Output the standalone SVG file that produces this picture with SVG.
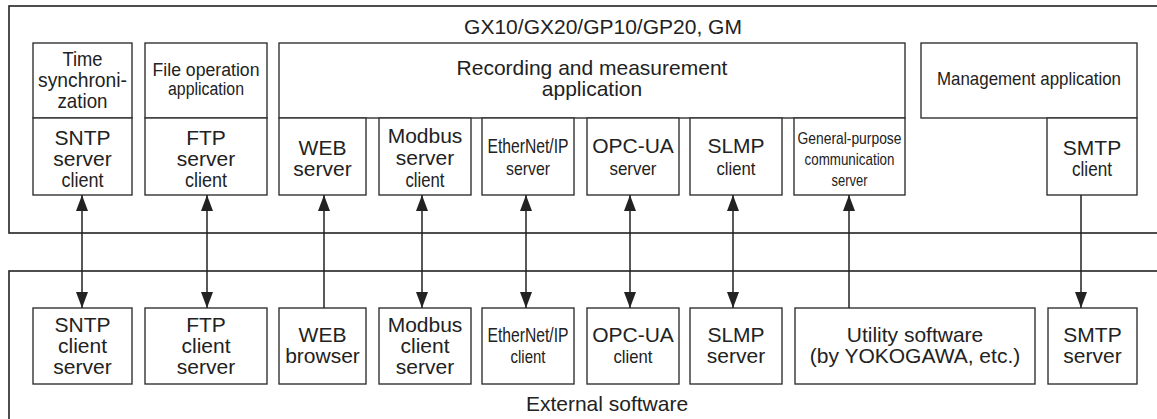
<svg xmlns="http://www.w3.org/2000/svg" width="1157" height="419" viewBox="0 0 1157 419">
<style>
.frame{fill:none;stroke:#222;stroke-width:1.6}
.box{fill:#fff;stroke:#333;stroke-width:1.4}
text{font-family:"Liberation Sans",Arial,sans-serif;fill:#222;text-anchor:middle;font-size:21px}
.sm{font-size:18px}
.xs{font-size:17px}
.n2{font-size:19px}
.con{stroke:#222;stroke-width:1.5;fill:none}
</style>
<defs>
<marker id="ah" markerUnits="userSpaceOnUse" markerWidth="16" markerHeight="12" refX="16" refY="6" orient="auto-start-reverse">
<path d="M0,0 L16,6 L0,12 z" fill="#222"/>
</marker>
</defs>
<g id="device">
<rect class="frame" x="9" y="6" width="1200" height="227"/>
<text x="603" y="34">GX10/GX20/GP10/GP20, GM</text>
</g>
<g id="external">
<rect class="frame" x="9" y="271" width="1200" height="200"/>
<text x="607" y="411">External software</text>
</g>
<g id="time-sync">
<rect class="box" x="33" y="43" width="99" height="75"/>
<text x="82.5" y="66" textLength="40" lengthAdjust="spacingAndGlyphs">Time</text>
<text x="82.5" y="87" textLength="89" lengthAdjust="spacingAndGlyphs">synchroni-</text>
<text x="82.5" y="108" textLength="50" lengthAdjust="spacingAndGlyphs">zation</text>
</g>
<g id="sntp-top">
<rect class="box" x="33" y="118" width="99" height="77"/>
<text x="82.5" y="145">SNTP</text>
<text x="82.5" y="166">server</text>
<text x="82.5" y="187" textLength="42" lengthAdjust="spacingAndGlyphs">client</text>
</g>
<g id="file-op">
<rect class="box" x="145" y="43" width="122" height="75"/>
<text class="sm" x="206" y="76" textLength="107" lengthAdjust="spacingAndGlyphs">File operation</text>
<text class="sm" x="206" y="95" textLength="76" lengthAdjust="spacingAndGlyphs">application</text>
</g>
<g id="ftp-top">
<rect class="box" x="145" y="118" width="122" height="77"/>
<text x="206" y="145">FTP</text>
<text x="206" y="166">server</text>
<text x="206" y="187" textLength="42" lengthAdjust="spacingAndGlyphs">client</text>
</g>
<g id="recording">
<rect class="box" x="279" y="43" width="626" height="75"/>
<text x="592" y="75">Recording and measurement</text>
<text x="592" y="96">application</text>
</g>
<g id="web-server">
<rect class="box" x="279" y="118" width="87" height="77"/>
<text x="322.5" y="155">WEB</text>
<text x="322.5" y="176">server</text>
</g>
<g id="modbus-top">
<rect class="box" x="379" y="118" width="92" height="77"/>
<text x="425" y="143">Modbus</text>
<text x="425" y="165">server</text>
<text x="425" y="187" textLength="39" lengthAdjust="spacingAndGlyphs">client</text>
</g>
<g id="eip-server">
<rect class="box" x="482" y="118" width="92" height="77"/>
<text x="528" y="153" textLength="81" lengthAdjust="spacingAndGlyphs">EtherNet/IP</text>
<text class="n2" x="528" y="175" textLength="44" lengthAdjust="spacingAndGlyphs">server</text>
</g>
<g id="opcua-server">
<rect class="box" x="587" y="118" width="92" height="77"/>
<text x="633" y="153">OPC-UA</text>
<text class="n2" x="633" y="175" textLength="47" lengthAdjust="spacingAndGlyphs">server</text>
</g>
<g id="slmp-client">
<rect class="box" x="690" y="118" width="92" height="77"/>
<text x="736" y="153">SLMP</text>
<text class="n2" x="736" y="175" textLength="39" lengthAdjust="spacingAndGlyphs">client</text>
</g>
<g id="general-purpose">
<rect class="box" x="794" y="118" width="111" height="77"/>
<text class="xs" x="849.5" y="144" textLength="104" lengthAdjust="spacingAndGlyphs">General-purpose</text>
<text class="xs" x="849.5" y="165" textLength="90" lengthAdjust="spacingAndGlyphs">communication</text>
<text class="xs" x="849.5" y="186" textLength="36" lengthAdjust="spacingAndGlyphs">server</text>
</g>
<g id="management">
<rect class="box" x="921" y="43" width="216" height="75"/>
<text x="1029" y="85" style="font-size:19px" textLength="184" lengthAdjust="spacingAndGlyphs">Management application</text>
</g>
<g id="smtp-client">
<rect class="box" x="1047" y="118" width="90" height="77"/>
<text x="1092" y="155">SMTP</text>
<text x="1092" y="176" textLength="40" lengthAdjust="spacingAndGlyphs">client</text>
</g>
<g id="sntp-bottom">
<rect class="box" x="33" y="308" width="99" height="76"/>
<text x="82.5" y="332">SNTP</text>
<text x="82.5" y="353">client</text>
<text x="82.5" y="374">server</text>
</g>
<g id="ftp-bottom">
<rect class="box" x="145" y="308" width="122" height="76"/>
<text x="206" y="332">FTP</text>
<text x="206" y="353">client</text>
<text x="206" y="374">server</text>
</g>
<g id="web-browser">
<rect class="box" x="279" y="308" width="87" height="76"/>
<text x="322.5" y="342">WEB</text>
<text x="322.5" y="363">browser</text>
</g>
<g id="modbus-bottom">
<rect class="box" x="379" y="308" width="92" height="76"/>
<text x="425" y="332">Modbus</text>
<text x="425" y="353">client</text>
<text x="425" y="374">server</text>
</g>
<g id="eip-client">
<rect class="box" x="482" y="308" width="92" height="76"/>
<text x="528" y="342" textLength="81" lengthAdjust="spacingAndGlyphs">EtherNet/IP</text>
<text class="n2" x="528" y="363" textLength="35" lengthAdjust="spacingAndGlyphs">client</text>
</g>
<g id="opcua-client">
<rect class="box" x="587" y="308" width="92" height="76"/>
<text x="633" y="342">OPC-UA</text>
<text class="n2" x="633" y="363" textLength="39" lengthAdjust="spacingAndGlyphs">client</text>
</g>
<g id="slmp-server">
<rect class="box" x="690" y="308" width="92" height="76"/>
<text x="736" y="342">SLMP</text>
<text x="736" y="363">server</text>
</g>
<g id="utility">
<rect class="box" x="795" y="308" width="240" height="76"/>
<text x="915" y="342">Utility software</text>
<text x="915" y="363">(by YOKOGAWA, etc.)</text>
</g>
<g id="smtp-server">
<rect class="box" x="1048" y="308" width="89" height="76"/>
<text x="1092.5" y="342">SMTP</text>
<text x="1092.5" y="363">server</text>
</g>
<g id="connectors">
<line class="con" x1="82" y1="195" x2="82" y2="308" marker-start="url(#ah)" marker-end="url(#ah)"/>
<line class="con" x1="207" y1="195" x2="207" y2="308" marker-start="url(#ah)" marker-end="url(#ah)"/>
<line class="con" x1="324" y1="308" x2="324" y2="195" marker-end="url(#ah)"/>
<line class="con" x1="422" y1="195" x2="422" y2="308" marker-start="url(#ah)" marker-end="url(#ah)"/>
<line class="con" x1="526" y1="195" x2="526" y2="308" marker-start="url(#ah)" marker-end="url(#ah)"/>
<line class="con" x1="630" y1="195" x2="630" y2="308" marker-start="url(#ah)" marker-end="url(#ah)"/>
<line class="con" x1="733" y1="195" x2="733" y2="308" marker-start="url(#ah)" marker-end="url(#ah)"/>
<line class="con" x1="849" y1="308" x2="849" y2="195" marker-end="url(#ah)"/>
<line class="con" x1="1081" y1="195" x2="1081" y2="308" marker-end="url(#ah)"/>
</g>
</svg>
